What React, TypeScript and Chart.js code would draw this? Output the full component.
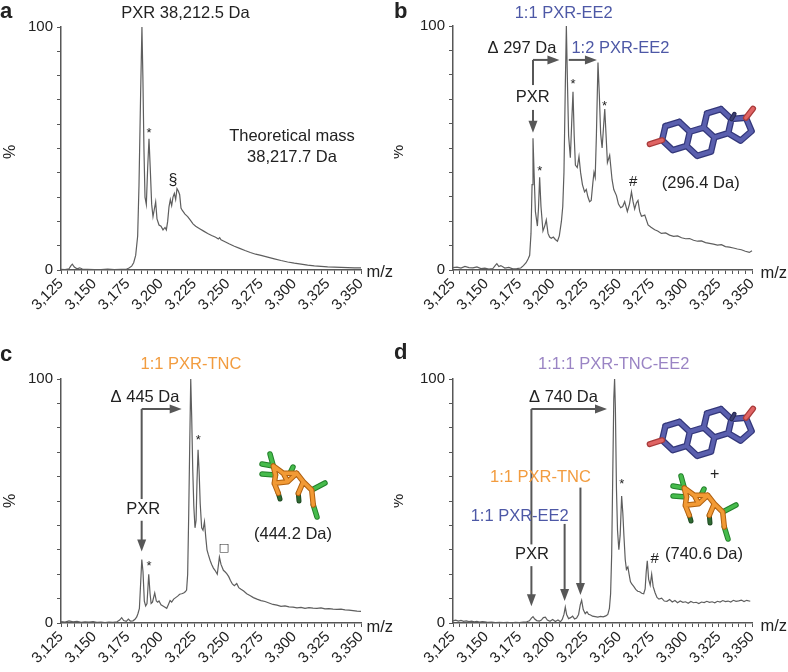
import React, { useEffect, useRef } from 'react';
import { Chart, registerables } from 'chart.js';

Chart.register(...registerables);

const FONT = '"Liberation Sans", Arial, Helvetica, sans-serif';
const PW = 394;
const PH = 336;

// ---- axis ticks ----
const xTickValues = [3125, 3150, 3175, 3200, 3225, 3250, 3275, 3300, 3325, 3350];
const xTickLabels = ['3,125', '3,150', '3,175', '3,200', '3,225', '3,250', '3,275', '3,300', '3,325', '3,350'];
const yTickValues = [0, 100];
const yTickLabels = ['0', '100'];

// ---- panel a : PXR ----
const mzA = [3125, 3128, 3131, 3132.5, 3133.5, 3135, 3137, 3139, 3141, 3145, 3150, 3155, 3160, 3165, 3170, 3174, 3176, 3178, 3179.5, 3181, 3182.5, 3183.5, 3184.7, 3185.7, 3186.4, 3187.2, 3188, 3189, 3190, 3191, 3192, 3193, 3194, 3195, 3196, 3197, 3198.5, 3200, 3201.5, 3203, 3204, 3205, 3206, 3207, 3208, 3209, 3210, 3211, 3212, 3213, 3214, 3215, 3216, 3218, 3220, 3222, 3224, 3226, 3229, 3232, 3235, 3238, 3241, 3243, 3244, 3245, 3248, 3251, 3255, 3259, 3263, 3267, 3271, 3275, 3280, 3285, 3290, 3295, 3300, 3305, 3310, 3315, 3320, 3325, 3330, 3335, 3340, 3345, 3350];
const pctA = [0.3, 0.2, 0.5, 1.8, 2.4, 1.2, 0.5, 0.9, 0.4, 0.3, 0.2, 0.2, 0.4, 0.2, 0.3, 0.3, 0.8, 1.6, 3, 6, 14, 35, 72, 100, 80, 50, 30, 27, 42, 54, 41, 27, 22, 25, 28, 21, 18.5, 18, 16.5, 17.5, 16.5, 20, 26, 29, 26.5, 30, 31.5, 29, 33.5, 32.5, 31, 25.5, 24.5, 23, 22, 20.5, 19, 18, 17, 16, 15, 14.2, 13.5, 12.8, 13.3, 12.4, 11.6, 10.8, 9.8, 8.9, 8.0, 7.2, 6.5, 6.0, 5.3, 4.6, 3.9, 3.3, 2.8, 2.4, 2.0, 1.7, 1.5, 1.3, 1.2, 1.1, 1.0, 0.9, 0.9];

// ---- panel b : PXR + EE2 ----
const mzB = [3125, 3128, 3131, 3134, 3137, 3140, 3143, 3146, 3149, 3152, 3155, 3157, 3158, 3159.5, 3161, 3164, 3167, 3170, 3173, 3176, 3178, 3180, 3181.5, 3182.7, 3183.7, 3184.5, 3185.2, 3186, 3187, 3188.5, 3189.3, 3190.2, 3191.2, 3192.7, 3194, 3195.2, 3196.5, 3197.7, 3199, 3200.5, 3202, 3203.6, 3205, 3206.6, 3207.6, 3208.5, 3209.5, 3210.3, 3211.2, 3212, 3213.3, 3214.3, 3215.3, 3216.2, 3217.1, 3218.5, 3219.8, 3221, 3222.4, 3224, 3225.3, 3226.5, 3227.8, 3229, 3230.3, 3231.1, 3232, 3232.9, 3234.1, 3235.1, 3236.1, 3237.2, 3238.2, 3239.2, 3240.2, 3241.2, 3242.9, 3244.7, 3246, 3248, 3249.5, 3251.2, 3252.7, 3254.2, 3256.2, 3257.8, 3259.3, 3260.5, 3261.7, 3263, 3264.2, 3265.5, 3266.8, 3269.3, 3271.8, 3274, 3276.8, 3279, 3281.8, 3285, 3288, 3291, 3294, 3297, 3300, 3303, 3306, 3309, 3312, 3315, 3318, 3321, 3324, 3327, 3330, 3333, 3336, 3339, 3342, 3345, 3348, 3350];
const pctB = [1.0, 1.2, 0.8, 1.5, 1.0, 0.9, 1.3, 0.6, 0.8, 0.4, 0.6, 2.0, 2.6, 1.4, 1.8, 0.8, 1.1, 0.5, 0.6, 0.8, 1.8, 3, 4.5, 6, 15, 35, 54, 40, 24, 18, 25, 38, 26, 16, 18, 20.5, 15, 13.5, 13, 13.5, 12.5, 11.8, 14, 20, 26, 40, 75, 100, 75, 55, 46, 60, 73, 55, 43, 42, 46.5, 40, 35, 32, 33, 30, 28, 28.5, 36, 40, 38, 55, 85, 72, 56, 50, 58, 66, 55, 44, 47, 37, 33, 30.5, 27, 25.5, 26, 28, 24, 27, 32, 28, 25, 27.5, 28.5, 24, 22, 22.5, 18.5, 17.5, 16.5, 16, 15, 15.2, 14.3, 13.8, 14.0, 13.2, 12.8, 12.9, 12.2, 11.8, 11.9, 11.2, 10.9, 10.6, 10.2, 10.4, 9.6, 9.4, 9.0, 8.6, 8.3, 7.7, 7.2, 7.9];

// ---- panel c : PXR + TNC ----
const mzC = [3125, 3128, 3131, 3134, 3137, 3140, 3143, 3146, 3149, 3152, 3155, 3158, 3161, 3164, 3167, 3169, 3170.5, 3172, 3174, 3175.5, 3177, 3179, 3180.5, 3181.8, 3182.8, 3183.8, 3184.7, 3185.6, 3186.5, 3187.5, 3188.5, 3189.5, 3190.8, 3191.8, 3192.6, 3193.6, 3195.3, 3196.5, 3197.5, 3198.5, 3200, 3201.5, 3203, 3204.3, 3205.5, 3206.8, 3208, 3209.5, 3211, 3212.5, 3214, 3215.5, 3217, 3218.2, 3219.2, 3220, 3220.8, 3221.6, 3222.3, 3223, 3223.8, 3224.6, 3225.5, 3226.3, 3227, 3227.8, 3228.6, 3229.4, 3230.5, 3231.5, 3232.6, 3233.6, 3234.5, 3235.5, 3236.8, 3238, 3239.3, 3240.5, 3242.2, 3243.8, 3245, 3246.8, 3248, 3249.3, 3250.8, 3252, 3253.5, 3255, 3256.8, 3258.3, 3260, 3262, 3264.3, 3267, 3269.3, 3272, 3275, 3278, 3281, 3284, 3287, 3290, 3293, 3296, 3299, 3302, 3305, 3308, 3311, 3314, 3317, 3320, 3323, 3326, 3329, 3332, 3335, 3338, 3341, 3344, 3347, 3350];
const pctC = [0.6, 0.4, 0.9, 0.5, 0.7, 0.3, 0.5, 0.4, 0.6, 0.3, 0.4, 0.2, 0.4, 0.3, 0.5, 1.2, 2.2, 1.0, 0.7, 1.6, 0.8, 0.9, 1.5, 2.5, 4, 6, 16, 26, 21, 9, 7, 8, 20, 12, 8, 8.5, 12.3, 9, 8.5, 9, 7.5, 7, 6.5, 6, 7.5, 9.2, 8.6, 9.8, 10.4, 11, 11.8, 12, 12.3, 12.8, 13.5, 20, 45, 75, 100, 85, 63, 48, 39, 42, 58, 71, 62, 49, 39, 38, 41.5, 35, 30, 28, 25.7, 24, 22.5, 21.6, 20, 27, 24, 21.6, 21, 20.2, 19, 17.5, 16, 15.3, 16.2, 14.5, 13.8, 13.1, 12, 11.2, 10.4, 9.8, 9.2, 8.8, 8.2, 7.6, 7.3, 6.8, 7.0, 6.6, 6.5, 6.2, 6.4, 6.0, 6.3, 6.1, 6.0, 6.2, 5.8, 5.9, 5.7, 5.6, 5.7, 5.4, 5.3, 5.1, 4.9, 4.8];

// ---- panel d : PXR + TNC + EE2 ----
const mzD = [3125, 3127, 3129, 3131, 3133, 3135, 3137, 3139, 3141, 3143, 3145, 3147, 3149, 3151, 3154, 3157, 3160, 3163, 3166, 3169, 3172, 3175, 3178, 3180.5, 3182.5, 3184, 3185.2, 3186.5, 3188, 3190, 3191.5, 3193, 3194.5, 3196, 3198, 3200, 3202, 3204, 3205.8, 3207.2, 3208.5, 3209.5, 3210.5, 3212, 3213.5, 3215, 3216.5, 3218, 3219.5, 3220.8, 3221.8, 3223, 3224.5, 3225.8, 3227, 3228.5, 3230, 3232, 3234, 3236, 3238, 3240, 3241.5, 3242.7, 3243.6, 3244.4, 3245.2, 3246.0, 3246.6, 3247.2, 3248, 3248.8, 3249.8, 3250.8, 3251.9, 3252.8, 3253.6, 3254.6, 3255.5, 3256.6, 3257.5, 3258.5, 3259.5, 3261, 3262.5, 3264, 3265.5, 3267, 3268.5, 3269.6, 3270.4, 3271.2, 3272.2, 3273.4, 3274.5, 3275.6, 3277, 3278.5, 3280, 3282, 3284, 3286, 3288, 3290, 3292, 3294, 3296, 3298, 3300, 3302, 3304, 3306, 3308, 3310, 3312, 3314, 3316, 3318, 3320, 3322, 3324, 3326, 3328, 3330, 3332, 3334, 3336, 3338, 3340, 3342, 3344, 3346, 3348.7];
const pctD = [0.9, 1.2, 0.8, 1.1, 0.7, 0.9, 0.6, 0.8, 0.5, 0.7, 0.4, 0.6, 0.5, 0.3, 0.4, 0.2, 0.3, 0.2, 0.3, 0.1, 0.3, 0.2, 0.4, 0.5, 0.9, 2.0, 2.6, 1.6, 1.0, 0.8, 1.2, 2.2, 2.4, 1.2, 0.7, 1.4, 0.6, 1.2, 0.5, 1.5, 3.5, 6.5, 3.5, 1.8, 2.2, 2.8, 1.6, 2.0, 3.5, 7.5, 9.3, 5.5, 3.8, 4.6, 3.6, 3.3, 2.8, 2.6, 2.4, 2.7, 2.5, 2.9, 3.5, 6, 12, 28, 60, 92, 100, 88, 55, 38, 30, 36, 52, 45, 36, 26, 22, 23, 20, 17, 16, 15, 13.8, 13, 12.8, 12.2, 12, 14, 21, 25.5, 18, 15.5, 20, 15, 12.5, 10.5, 9.8, 10.2, 9.0, 8.9, 9.6, 8.6, 9.2, 8.3, 9.0, 8.5, 8.7, 8.1, 8.8, 8.3, 8.5, 8.0, 8.6, 8.4, 8.9, 8.5, 8.7, 8.3, 8.9, 8.6, 9.2, 8.8, 9.0, 8.6, 9.3, 8.9, 9.1, 9.4, 8.8, 9.3, 8.9];

// ---- colours ----
const DARK = '#222222';
const GREY = '#575757';
const BLUE = '#4d58a6';
const ORANGE = '#f29c3f';
const PURPLE = '#9a84c4';

type TextAnn = {
  t: string; x: number; y: number; data?: boolean; color?: string;
  size?: number; bold?: boolean; align?: CanvasTextAlign; dy?: number; rot?: boolean; family?: string;
};
type ArrowAnn = { pts: [number, number][]; head: boolean };
type MolAnn = { kind: 'ee2' | 'tnc'; x: number; y: number };
type Panel = {
  id: string; left: number; top: number;
  area: { l: number; r: number; t: number; b: number };
  mz: number[]; pct: number[];
  texts: TextAnn[]; arrows: ArrowAnn[]; mols: MolAnn[];
};

const common = (letter: string, letterY: number, pctX: number, pctY: number, mzY: number): TextAnn[] => [
  { t: letter, x: 0, y: letterY, bold: true, size: 22, align: 'left' },
  { t: '%', x: pctX, y: pctY, size: 16, rot: true },
  { t: 'm/z', x: 366.5, y: mzY, size: 16.5, align: 'left' },
];

const panels: Panel[] = [
  {
    id: 'a', left: 0, top: 0, area: { l: 61, r: 361, t: 27, b: 270 }, mz: mzA, pct: pctA,
    texts: [
      ...common('a', 18, 11, 152, 272),
      { t: 'PXR 38,212.5 Da', x: 185.5, y: 13 },
      { t: '*', x: 3191, y: 57.6, data: true, size: 13, dy: 3 },
      { t: '§', x: 3209, y: 36.6, data: true, size: 16 },
      { t: 'Theoretical mass', x: 292, y: 136 },
      { t: '38,217.7 Da', x: 292, y: 157 },
    ],
    arrows: [], mols: [],
  },
  {
    id: 'b', left: 394, top: 0, area: { l: 59, r: 358, t: 26, b: 270 }, mz: mzB, pct: pctB,
    texts: [
      ...common('b', 18, 5, 152, 273),
      { t: '1:1 PXR-EE2', x: 3208.3, y: 105.3, data: true, color: BLUE },
      { t: 'Δ 297 Da', x: 3176.9, y: 90.6, data: true },
      { t: '1:2 PXR-EE2', x: 3251, y: 90.6, data: true, color: BLUE },
      { t: 'PXR', x: 3185, y: 70.9, data: true },
      { t: '*', x: 3190.3, y: 41.7, data: true, size: 13, dy: 3 },
      { t: '*', x: 3215.3, y: 77.2, data: true, size: 13, dy: 3 },
      { t: '*', x: 3239.1, y: 68.3, data: true, size: 13, dy: 3 },
      { t: '#', x: 3260.5, y: 36.2, data: true, size: 15 },
      { t: '(296.4 Da)', x: 306.7, y: 183 },
    ],
    arrows: [
      { pts: [[3185.2, 86.1], [3185.2, 75.8]], head: false },
      { pts: [[3185.2, 65.6], [3185.2, 56.2]], head: true },
      { pts: [[3185.2, 86.1], [3205.1, 86.1]], head: true },
      { pts: [[3212.1, 86.1], [3233.3, 86.1]], head: true },
    ],
    mols: [{ kind: 'ee2', x: 282, y: 136 }],
  },
  {
    id: 'c', left: 0, top: 336, area: { l: 61, r: 361, t: 43, b: 287 }, mz: mzC, pct: pctC,
    texts: [
      ...common('c', 25, 11, 165, 291.5),
      { t: '1:1 PXR-TNC', x: 3222.5, y: 106, data: true, color: ORANGE },
      { t: 'Δ 445 Da', x: 3188, y: 92.3, data: true },
      { t: 'PXR', x: 3186.7, y: 46.7, data: true },
      { t: '*', x: 3228, y: 76, data: true, size: 13, dy: 3 },
      { t: '*', x: 3191, y: 24.5, data: true, size: 13, dy: 3 },
      { t: '□', x: 3247.3, y: 30.5, data: true, size: 11, family: '"DejaVu Sans", sans-serif' },
      { t: '(444.2 Da)', x: 293, y: 198 },
    ],
    arrows: [
      { pts: [[3185.5, 87.7], [3185.5, 50.8]], head: false },
      { pts: [[3185.5, 41.9], [3185.5, 29.3]], head: true },
      { pts: [[3185.5, 87.7], [3215.5, 87.7]], head: true },
    ],
    mols: [{ kind: 'tnc', x: 293, y: 145 }],
  },
  {
    id: 'd', left: 394, top: 336, area: { l: 59, r: 358, t: 43, b: 287 }, mz: mzD, pct: pctD,
    texts: [
      ...common('d', 23, 5, 165, 290),
      { t: '1:1:1 PXR-TNC-EE2', x: 3245.9, y: 105.9, data: true, color: PURPLE },
      { t: 'Δ 740 Da', x: 3208.1, y: 92.3, data: true },
      { t: 'PXR', x: 3184.5, y: 28.1, data: true },
      { t: '1:1 PXR-TNC', x: 3190.8, y: 59.5, data: true, color: ORANGE },
      { t: '1:1 PXR-EE2', x: 3175.2, y: 43.8, data: true, color: BLUE },
      { t: '*', x: 3252, y: 58, data: true, size: 13, dy: 3 },
      { t: '#', x: 3276.8, y: 26.4, data: true, size: 15 },
      { t: '+', x: 320.7, y: 138.3, size: 16 },
      { t: '(740.6 Da)', x: 310, y: 218.5 },
    ],
    arrows: [
      { pts: [[3184, 87.7], [3184, 32.2]], head: false },
      { pts: [[3184, 23.3], [3184, 6.9]], head: true },
      { pts: [[3184, 87.7], [3240.9, 87.7]], head: true },
      { pts: [[3220.9, 55.5], [3220.9, 11.5]], head: true },
      { pts: [[3209, 40.6], [3209, 9]], head: true },
    ],
    mols: [
      { kind: 'ee2', x: 282, y: 100 },
      { kind: 'tnc', x: 310, y: 167 },
    ],
  },
];

type Seg = [number, number, number, number];

function drawSticks(ctx: CanvasRenderingContext2D, segs: Seg[], outer: string, inner: string, wo: number, wi: number) {
  ctx.lineCap = 'round';
  ctx.lineJoin = 'round';
  ctx.strokeStyle = outer;
  ctx.lineWidth = wo;
  ctx.beginPath();
  segs.forEach(s => { ctx.moveTo(s[0], s[1]); ctx.lineTo(s[2], s[3]); });
  ctx.stroke();
  ctx.strokeStyle = inner;
  ctx.lineWidth = wi;
  ctx.beginPath();
  segs.forEach(s => { ctx.moveTo(s[0], s[1]); ctx.lineTo(s[2], s[3]); });
  ctx.stroke();
}

function drawEE2(ctx: CanvasRenderingContext2D, ax: number, ay: number) {
  const L = 14.5;
  const r = (d: number) => (d * Math.PI) / 180;
  const d = Math.sqrt(3) * L;
  const base = 13;
  const cA: [number, number] = [ax, ay];
  const cB: [number, number] = [ax + d * Math.cos(r(base)), ay + d * Math.sin(r(base))];
  const cC: [number, number] = [cB[0] + d * Math.cos(r(base - 60)), cB[1] + d * Math.sin(r(base - 60))];
  const hex = (c: [number, number]) =>
    [0, 1, 2, 3, 4, 5].map(k => [c[0] + L * Math.cos(r(base + 30 + 60 * k)), c[1] + L * Math.sin(r(base + 30 + 60 * k))] as [number, number]);
  const A = hex(cA), B = hex(cB), C = hex(cC);
  const ring = (P: [number, number][]) => P.map((p, i) => [p[0], p[1], P[(i + 1) % 6][0], P[(i + 1) % 6][1]] as Seg);
  const p1 = C[5], p2 = C[0];
  const mid = [(p1[0] + p2[0]) / 2, (p1[1] + p2[1]) / 2];
  const pc = [mid[0] + 0.688 * L * Math.cos(r(base)), mid[1] + 0.688 * L * Math.sin(r(base))];
  const R = 0.8507 * L;
  const a1 = Math.atan2(p1[1] - pc[1], p1[0] - pc[0]);
  const q = [1, 2, 3].map(k => [pc[0] + R * Math.cos(a1 + r(72 * k)), pc[1] + R * Math.sin(a1 + r(72 * k))]);
  const Dsegs: Seg[] = [
    [p1[0], p1[1], q[0][0], q[0][1]],
    [q[0][0], q[0][1], q[1][0], q[1][1]],
    [q[1][0], q[1][1], q[2][0], q[2][1]],
    [q[2][0], q[2][1], p2[0], p2[1]],
  ];
  const segs = [...ring(A), ...ring(B), ...ring(C), ...Dsegs];
  const o = A[2];
  const oEnd = [o[0] + 0.9 * L * Math.cos(r(base + 150)), o[1] + 0.9 * L * Math.sin(r(base + 150))];
  const rEnd = [q[0][0] + 0.8 * L * Math.cos(r(-52)), q[0][1] + 0.8 * L * Math.sin(r(-52))];
  const mEnd = [p1[0] + 0.4 * L * Math.cos(r(-60)), p1[1] + 0.4 * L * Math.sin(r(-60))];
  drawSticks(ctx, segs, '#33377a', '#5a5fae', 6.5, 4);
  drawSticks(ctx, [[p1[0], p1[1], mEnd[0], mEnd[1]]], '#26284f', '#3a3d72', 4.5, 2.5);
  drawSticks(ctx, [[o[0], o[1], oEnd[0], oEnd[1]], [q[0][0], q[0][1], rEnd[0], rEnd[1]]], '#a83a3a', '#e06464', 6, 3.5);
}

function drawTNC(ctx: CanvasRenderingContext2D, cx: number, cy: number) {
  const P: Record<string, [number, number]> = {
    A: [-19.7, -15], K: [-17.5, -6], C: [-18.7, 2.3], D: [-14.7, 12.3], B: [-9.7, -7.7],
    E: [3.7, -7.7], F: [10.3, 0.7], G: [18.7, 9], H: [20.3, 24], I: [-5.3, 0.7], J: [5.3, 12.3], M: [-3, -7.7],
  };
  const at = (k: string) => [cx + P[k][0], cy + P[k][1]];
  const bond = (a: string, b: string): Seg => { const p = at(a), q = at(b); return [p[0], p[1], q[0], q[1]]; };
  const stub = (a: string, dx: number, dy: number): Seg => { const p = at(a); return [p[0], p[1], cx + dx, cy + dy]; };
  const orange: Seg[] = [
    bond('A', 'B'), bond('B', 'E'), bond('E', 'F'), bond('F', 'G'), bond('G', 'H'),
    bond('A', 'K'), bond('K', 'C'), bond('C', 'D'), bond('C', 'I'), bond('I', 'E'), bond('F', 'J'), bond('B', 'I'),
  ];
  const green: Seg[] = [
    stub('A', -23, -27), stub('A', -31, -17), stub('K', -31, -7), stub('M', 0, -14),
    stub('G', 32, 2), stub('H', 24, 36),
  ];
  const darkG: Seg[] = [stub('D', -13, 18), stub('J', 6, 20)];
  drawSticks(ctx, green, '#23802b', '#46bb4c', 5.5, 3.5);
  drawSticks(ctx, darkG, '#1f4a22', '#2f6b33', 5, 3);
  drawSticks(ctx, orange, '#b0600f', '#f29a35', 5.5, 3.5);
}

function makePlugin(p: Panel) {
  return {
    id: 'ann_' + p.id,
    afterDraw(chart: any) {
      const ctx: CanvasRenderingContext2D = chart.ctx;
      const xs = chart.scales.x;
      const ys = chart.scales.y;
      const X = (v: number) => xs.getPixelForValue(v);
      const Y = (v: number) => ys.getPixelForValue(v);
      ctx.save();
      ctx.strokeStyle = GREY;
      ctx.fillStyle = GREY;
      ctx.lineWidth = 2;
      p.arrows.forEach(a => {
        const pts = a.pts.map(q => [X(q[0]), Y(q[1])]);
        const n = pts.length;
        const tip = pts[n - 1];
        const prev = pts[n - 2];
        const ang = Math.atan2(tip[1] - prev[1], tip[0] - prev[0]);
        const hl = 12, hw = 4.5;
        const endX = a.head ? tip[0] - (hl - 1) * Math.cos(ang) : tip[0];
        const endY = a.head ? tip[1] - (hl - 1) * Math.sin(ang) : tip[1];
        ctx.beginPath();
        ctx.lineCap = 'butt';
        ctx.moveTo(pts[0][0], pts[0][1]);
        for (let i = 1; i < n - 1; i++) ctx.lineTo(pts[i][0], pts[i][1]);
        ctx.lineTo(endX, endY);
        ctx.stroke();
        if (a.head) {
          ctx.beginPath();
          ctx.moveTo(tip[0], tip[1]);
          ctx.lineTo(tip[0] - hl * Math.cos(ang) - hw * Math.sin(ang), tip[1] - hl * Math.sin(ang) + hw * Math.cos(ang));
          ctx.lineTo(tip[0] - hl * Math.cos(ang) + hw * Math.sin(ang), tip[1] - hl * Math.sin(ang) - hw * Math.cos(ang));
          ctx.closePath();
          ctx.fill();
        }
      });
      p.mols.forEach(m => {
        if (m.kind === 'ee2') drawEE2(ctx, m.x, m.y);
        else drawTNC(ctx, m.x, m.y);
      });
      p.texts.forEach(t => {
        const size = t.size ?? 16.5;
        ctx.font = `${t.bold ? 'bold ' : ''}${size}px ${t.family ?? FONT}`;
        ctx.fillStyle = t.color ?? DARK;
        ctx.textAlign = t.align ?? 'center';
        const px = t.data ? X(t.x) : t.x;
        const py = (t.data ? Y(t.y) : t.y) + (t.dy ?? 0);
        if (t.bold) {
          ctx.textBaseline = 'alphabetic';
          ctx.fillText(t.t, px, py);
        } else if (t.rot) {
          ctx.save();
          ctx.translate(px, py);
          ctx.rotate(-Math.PI / 2);
          ctx.textBaseline = 'middle';
          ctx.fillText(t.t, 0, 0);
          ctx.restore();
        } else {
          ctx.textBaseline = 'middle';
          ctx.fillText(t.t, px, py);
        }
      });
      ctx.restore();
    },
  };
}

function makeConfig(p: Panel): any {
  const tickFont = { family: FONT, size: 15 };
  return {
    type: 'line',
    data: {
      datasets: [
        {
          data: p.mz.map((m, i) => ({ x: m, y: p.pct[i] })),
          borderColor: '#5e5e5e',
          borderWidth: 1.2,
          pointRadius: 0,
          tension: 0,
          fill: false,
          clip: false,
        },
      ],
    },
    options: {
      animation: false,
      responsive: false,
      events: [],
      layout: { padding: { left: 0, top: p.area.t, right: PW - p.area.r, bottom: 0 } },
      plugins: { legend: { display: false }, tooltip: { enabled: false } },
      scales: {
        x: {
          type: 'linear',
          min: 3125,
          max: 3350,
          afterFit: (s: any) => { s.height = PH - p.area.b; },
          ticks: {
            stepSize: 5,
            maxTicksLimit: 1000,
            autoSkip: false,
            minRotation: 45,
            maxRotation: 45,
            padding: 1,
            font: tickFont,
            color: DARK,
            callback: (v: number) => {
              const i = xTickValues.indexOf(v);
              return i >= 0 ? xTickLabels[i] : '';
            },
          },
          grid: { drawOnChartArea: false, drawTicks: true, tickLength: 4, color: GREY, lineWidth: 1 },
          border: { display: true, color: GREY, width: 1.5 },
        },
        y: {
          type: 'linear',
          min: 0,
          max: 100,
          afterFit: (s: any) => { s.width = p.area.l; },
          ticks: {
            stepSize: 10,
            autoSkip: false,
            padding: 4,
            font: tickFont,
            color: DARK,
            callback: (v: number) => {
              const i = yTickValues.indexOf(v);
              return i >= 0 ? yTickLabels[i] : '';
            },
          },
          grid: { drawOnChartArea: false, drawTicks: true, tickLength: 4, color: GREY, lineWidth: 1 },
          border: { display: true, color: GREY, width: 1.5 },
        },
      },
    },
    plugins: [makePlugin(p)],
  };
}

function PanelChart({ p }: { p: Panel }) {
  const ref = useRef<HTMLCanvasElement | null>(null);
  useEffect(() => {
    if (!ref.current) return;
    const chart = new Chart(ref.current, makeConfig(p));
    return () => chart.destroy();
  }, [p]);
  return (
    <canvas
      ref={ref}
      width={PW}
      height={PH}
      style={{ position: 'absolute', left: p.left, top: p.top, width: PW, height: PH }}
    />
  );
}

export default function App() {
  return (
    <div style={{ position: 'absolute', left: 0, top: 0, width: 788, height: 672, background: '#ffffff', overflow: 'hidden' }}>
      {panels.map(p => (
        <PanelChart key={p.id} p={p} />
      ))}
    </div>
  );
}
